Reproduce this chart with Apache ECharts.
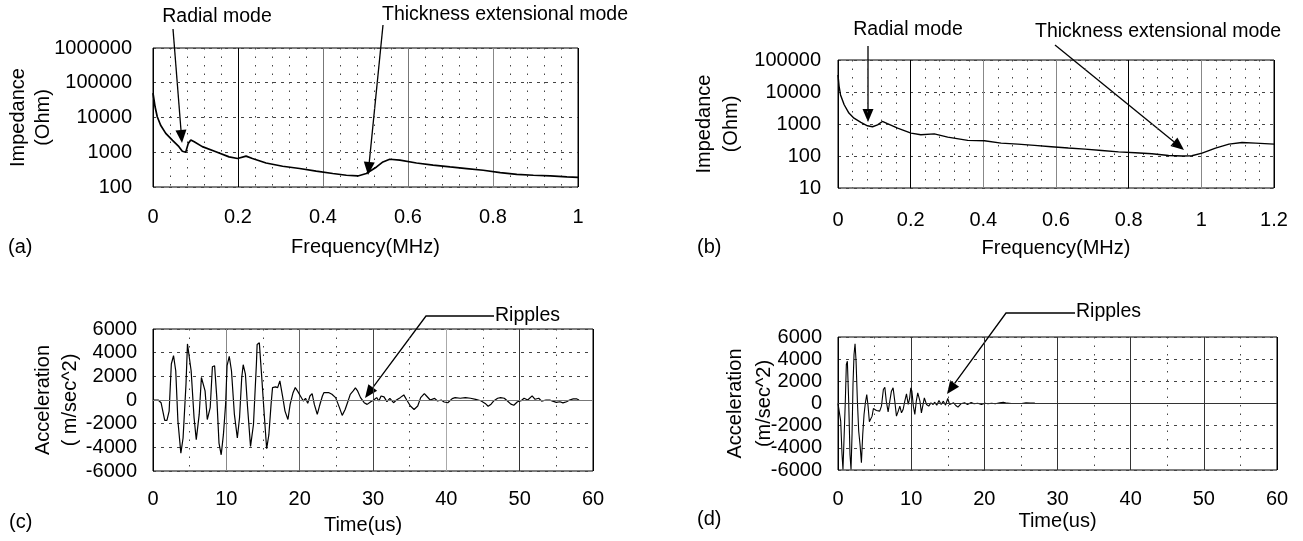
<!DOCTYPE html>
<html>
<head>
<meta charset="utf-8">
<title>Impedance and acceleration</title>
<script src="https://cdn.jsdelivr.net/npm/echarts@6/dist/echarts.min.js"></script>
<style>
  html, body { margin: 0; padding: 0; background: #fff; }
  #main { width: 1303px; height: 541px; }
</style>
</head>
<body>
<div id="main"></div>
<script>
// (a) impedance vs frequency, disc 1
const freqA = [0, 0.005, 0.010, 0.018, 0.030, 0.046, 0.061, 0.069, 0.073, 0.077, 0.083, 0.089, 0.097, 0.116, 0.148,
  0.179, 0.199, 0.219, 0.234, 0.266, 0.305, 0.345, 0.384, 0.423, 0.455, 0.482, 0.502, 0.526, 0.541, 0.557,
  0.581, 0.620, 0.659, 0.699, 0.738, 0.777, 0.817, 0.856, 0.895, 0.935, 0.974, 1.0];
const impA = [50000, 20000, 10500, 6000, 3500, 2200, 1450, 1070, 1150, 1000, 1800, 2250, 2000, 1450, 1030,
  735, 660, 775, 660, 490, 395, 340, 285, 245, 218, 208, 245, 378, 527, 630,
  590, 490, 425, 378, 340, 303, 260, 232, 218, 208, 196, 190];

// (b) impedance vs frequency, disc 2
const freqB = [0, 0.003, 0.007, 0.017, 0.030, 0.044, 0.063, 0.081, 0.095, 0.109, 0.122, 0.136, 0.164, 0.201,
  0.228, 0.265, 0.302, 0.357, 0.403, 0.449, 0.495, 0.541, 0.587, 0.634, 0.680, 0.726, 0.772, 0.818, 0.864,
  0.910, 0.947, 0.974, 1.002, 1.039, 1.076, 1.112, 1.149, 1.2];
const impB = [34000, 15000, 8100, 4000, 2200, 1520, 1120, 880, 820, 940, 1200, 1020, 740, 520,
  460, 490, 390, 307, 300, 252, 235, 214, 195, 177, 164, 149, 135, 126, 117,
  104, 100, 102, 123, 177, 235, 265, 252, 235];

// (c) acceleration vs time, long ringing
const timeC = [0.1, 0.7, 1.1, 1.6, 1.9, 2.2, 2.5, 2.8, 3.1, 3.4, 3.8, 4.1, 4.5, 4.7, 4.9, 5.2, 5.6, 5.9, 6.3, 6.6,
  6.8, 7.1, 7.4, 7.8, 8.1, 8.4, 8.7, 9.0, 9.3, 9.6, 9.9, 10.1, 10.4, 10.7, 11.1, 11.5, 11.8, 12.1, 12.3, 12.6,
  12.9, 13.3, 13.7, 14.1, 14.2, 14.5, 14.8, 15.2, 15.5, 15.8, 16.1, 16.3, 16.7, 17.0, 17.3, 17.5, 17.7, 18.0,
  18.4, 18.7, 19.1, 19.4, 19.7, 20.1, 20.5, 20.8, 21.1, 21.4, 21.7, 22.0, 22.4, 22.7, 23.1, 23.3, 23.7, 24.0,
  24.4, 24.9, 25.4, 25.8, 26.2, 26.6, 26.9, 27.3, 27.6, 27.9, 28.3, 28.8, 29.2, 29.7, 30.1, 30.5, 30.8, 31.1,
  31.5, 31.9, 32.3, 32.8, 33.2, 33.7, 34.2, 34.6, 35.1, 35.6, 36.1, 36.5, 37.0, 37.3, 37.8, 38.4, 38.8, 39.3,
  39.7, 40.2, 40.8, 41.2, 41.9, 42.6, 43.3, 44.0, 44.7, 45.3, 45.7, 46.1, 46.5, 47.0, 47.4, 47.9, 48.3, 48.8,
  49.2, 49.7, 50.2, 50.6, 51.1, 51.7, 52.1, 52.6, 53.0, 53.6, 54.1, 54.5, 55.0, 55.5, 55.9, 56.4, 56.8, 57.3,
  57.8, 58.1];
const accC = [0, 0, -230, -1730, -1730, -940, 3040, 3750, 2470, -1790, -4490, -3210, 1340, 4740, 4890, 2470,
  -1500, -3350, -1220, 1900, 1960, 770, -1650, -650, 2810, 2900, 200, -3640, -4630, -2930, -370, 2900, 3690,
  2470, -1220, -3210, -1500, 1900, 2980, 2190, -650, -3920, -2070, 3040, 4690, 4830, 2190, -1500, -4120,
  -2930, -370, 1050, 1110, 1050, 1620, 1480, 200, -940, -1650, -370, 620, 1050, 770, 340, -85, 140, -280,
  340, 540, -370, -1220, -510, 340, 620, 620, 620, 480, 200, -600, -1300, -800, -85, 480, 770, 1030, 770,
  200, -230, -370, -140, 0, 200, -85, 340, 260, -140, 140, -230, 0, 200, 430, 0, -510, -800, -510, 200, 540,
  340, 0, 140, -85, 0, -170, -230, 120, 200, 150, 200, 150, 60, -60, -290, -530, -350, -60, 150, 200, 150,
  -60, -350, -440, -150, -60, 150, 0, 350, 60, 150, -90, 0, 0, -90, -200, -150, -240, -150, 0, 90, 90, 0];

// (d) acceleration vs time, short ringing
const timeD = [0, 0.14, 0.37, 0.55, 0.68, 0.82, 1.0, 1.14, 1.28, 1.46, 1.64, 1.78, 1.92, 2.05, 2.19, 2.33,
  2.47, 2.65, 2.83, 3.01, 3.2, 3.38, 3.56, 3.74, 3.93, 4.11, 4.29, 4.47, 4.66, 4.84, 5.02, 5.25, 5.48, 5.7,
  5.94, 6.2, 6.4, 6.6, 6.85, 7.08, 7.3, 7.53, 7.76, 7.99, 8.2, 8.45, 8.68, 8.9, 9.13, 9.36, 9.6, 9.8, 9.95,
  10.1, 10.3, 10.5, 10.7, 10.9, 11.05, 11.2, 11.4, 11.6, 11.8, 11.96, 12.1, 12.4, 12.7, 13.0, 13.2, 13.5,
  13.8, 14.1, 14.4, 14.7, 15.0, 15.25, 15.5, 15.8, 16.1, 16.4, 16.8, 17.3, 17.7, 18.2, 18.6, 19.1, 19.6,
  20.1, 20.5, 21.0, 21.5, 22.1, 22.6, 23.1, 23.7, 24.4, 25.1, 25.7, 26.3, 26.9];
const accD = [0, -90, -1590, -4600, -5950, -5800, 210, 3520, 3820, 210, -4600, -5950, -2800, 1710, 4420,
  5380, 3820, 210, -2500, -3700, -5350, -2800, -990, 60, 810, -240, -1650, -1830, -1140, -450, -330, -630,
  -540, -690, -240, 1260, 1470, 210, -750, 210, 1110, 1410, 210, -1140, -750, -240, -840, -540, 210, 870,
  -90, 510, 1410, 1110, -240, -990, 210, 960, 870, 210, -840, -990, 510, 510, -90, -240, 60, -90, 120, -150,
  270, -90, 210, -150, 450, -90, -240, 60, -180, -330, -30, 60, -90, 90, -30, 30, -90, 30, -30, 30, -30, 60,
  120, 30, 0, 0, 0, 60, 30, 30];

const zip = (xs, ys) => xs.map((x, i) => [x, ys[i]]);

const FONT = 'Liberation Sans, Arial, Helvetica, sans-serif';
const txt = { color: '#000', fontFamily: FONT, fontSize: 20 };

function xAxisOf(gridIndex, max, interval, minorSplit, colors, name, nameGap, labelMargin, extra) {
  return Object.assign({
    gridIndex, type: 'value', min: 0, max, interval,
    axisLine: { show: false }, axisTick: { show: false },
    axisLabel: Object.assign({ margin: labelMargin }, txt),
    splitLine: { show: true, lineStyle: { color: colors, width: 1 } },
    minorTick: { show: false, splitNumber: minorSplit },
    minorSplitLine: { show: true, lineStyle: { color: '#444', width: 1, type: [1.5, 7] } },
    name, nameLocation: 'middle', nameGap, nameMoveOverlap: false,
    nameTextStyle: Object.assign({}, txt)
  }, extra || {});
}

function yAxisOf(gridIndex, opts, name, nameGap, lineHeight, labelMargin) {
  return Object.assign({
    gridIndex,
    axisLine: { show: false }, axisTick: { show: false },
    axisLabel: Object.assign({ margin: labelMargin, formatter: v => String(Math.round(v)) }, txt),
    splitLine: { show: true, lineStyle: { color: '#444', width: 1, type: [3, 5] } },
    name, nameLocation: 'middle', nameGap, nameMoveOverlap: false,
    nameTextStyle: Object.assign({}, txt, { fontSize: 20, lineHeight })
  }, opts);
}

// arrow: shaft + filled head, tail -> tip
function arrow(x1, y1, x2, y2, pre) {
  const dx = x2 - x1, dy = y2 - y1, len = Math.sqrt(dx * dx + dy * dy);
  const ux = dx / len, uy = dy / len, L = 13, w = 5.5;
  const bx = x2 - ux * L, by = y2 - uy * L;
  const pts = (pre || []).concat([[x1, y1], [bx, by]]);
  return [
    { type: 'polyline', shape: { points: pts }, style: { stroke: '#000', lineWidth: 1.3, fill: null } },
    { type: 'polygon', shape: { points: [[x2, y2], [bx - uy * w, by + ux * w], [bx + uy * w, by - ux * w]] },
      style: { fill: '#000' } }
  ];
}

function label(text, x, y, align, size) {
  return { type: 'text', x, y,
    style: { text, fill: '#000', font: (size || 20) + 'px ' + FONT, align: align || 'center', verticalAlign: 'middle' } };
}

const zeroLine = color => ({
  silent: true, symbol: 'none', label: { show: false }, animation: false,
  lineStyle: { color, type: 'solid', width: 1 }, data: [{ yAxis: 0 }]
});

const chart = echarts.init(document.getElementById('main'));
chart.setOption({
  backgroundColor: '#fff',
  animation: false,
  grid: [
    { left: 153, top: 48, width: 425, height: 139, show: true, borderColor: '#000', borderWidth: 1 },
    { left: 838, top: 60, width: 436, height: 128, show: true, borderColor: '#000', borderWidth: 1 },
    { left: 153, top: 329, width: 440, height: 142, show: true, borderColor: '#000', borderWidth: 1 },
    { left: 838, top: 337, width: 439, height: 133, show: true, borderColor: '#000', borderWidth: 1 }
  ],
  xAxis: [
    xAxisOf(0, 1, 0.2, 5, ['#000', '#000', '#777', '#777', '#888', '#000'], 'Frequency(MHz)', 50, 20),
    xAxisOf(1, 1.2, 0.2, 5, ['#000', '#000', '#888', '#888', '#000', '#888', '#000'], 'Frequency(MHz)', 50, 22),
    xAxisOf(2, 60, 10, 2, ['#000', '#888', '#666', '#444', '#aaa', '#333', '#000'], 'Time(us)', 44, 18,
      { nameTextStyle: Object.assign({}, txt, { padding: [0, 20, 0, 0] }) }),
    xAxisOf(3, 60, 10, 2, ['#000', '#333', '#333', '#333', '#333', '#333', '#000'], 'Time(us)', 41, 19)
  ],
  yAxis: [
    yAxisOf(0, { type: 'log', logBase: 10, min: 100, max: 1000000 }, 'Impedance\n(Ohm)', 97, 25, 21),
    yAxisOf(1, { type: 'log', logBase: 10, min: 10, max: 100000 }, 'Impedance\n(Ohm)', 93, 27, 17),
    yAxisOf(2, { type: 'value', min: -6000, max: 6000, interval: 2000 }, 'Acceleration\n( m/sec^2)', 69, 27, 16),
    yAxisOf(3, { type: 'value', min: -6000, max: 6000, interval: 2000 }, 'Acceleration\n(m/sec^2)', 59, 29, 16)
  ],
  series: [
    { type: 'line', xAxisIndex: 0, yAxisIndex: 0, showSymbol: false, data: zip(freqA, impA),
      lineStyle: { color: '#000', width: 1.7 } },
    { type: 'line', xAxisIndex: 1, yAxisIndex: 1, showSymbol: false, data: zip(freqB, impB),
      lineStyle: { color: '#000', width: 1.4 } },
    { type: 'line', xAxisIndex: 2, yAxisIndex: 2, showSymbol: false, data: zip(timeC, accC),
      lineStyle: { color: '#000', width: 1.2 }, markLine: zeroLine('#777') },
    { type: 'line', xAxisIndex: 3, yAxisIndex: 3, showSymbol: false, data: zip(timeD, accD),
      lineStyle: { color: '#000', width: 1.1 }, markLine: zeroLine('#333') }
  ],
  graphic: [].concat(
    [label('(a)', 8, 247, 'left'), label('(b)', 697, 247, 'left'),
     label('(c)', 9, 522, 'left'), label('(d)', 697, 519, 'left')],
    [label('Radial mode', 217, 17, 'center', 19.5)],
    arrow(173, 29, 182, 143),
    [label('Thickness extensional mode', 505, 15, 'center', 19.5)],
    arrow(383, 25, 368, 175),
    [label('Radial mode', 908, 30, 'center', 19.5)],
    arrow(868, 46, 868, 122),
    [label('Thickness extensional mode', 1158, 32, 'center', 19.5)],
    arrow(1055, 45, 1184, 150),
    [label('Ripples', 495, 316, 'left', 19.5)],
    arrow(426, 316, 365, 398, [[494, 316]]),
    [label('Ripples', 1076, 312, 'left', 19.5)],
    arrow(1006, 313, 947, 394, [[1075, 313]])
  )
});
</script>
</body>
</html>
